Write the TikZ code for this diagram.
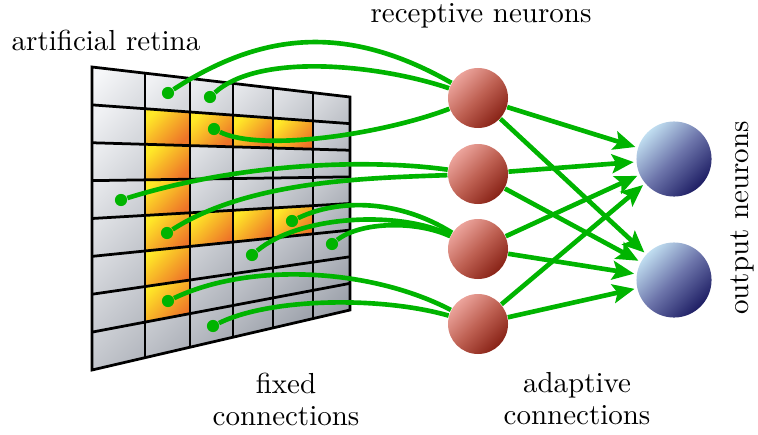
\documentclass[tikz,border=0pt]{standalone}
\usetikzlibrary{arrows.meta}

\definecolor{wire}{RGB}{0,180,0}
\definecolor{cellhi}{RGB}{246,247,249}
\definecolor{celllo}{RGB}{150,155,165}
\definecolor{fyellow}{RGB}{255,232,40}
\definecolor{forange}{RGB}{238,116,40}
\definecolor{redhi}{RGB}{236,164,156}
\definecolor{redmid}{RGB}{190,96,82}
\definecolor{redlo}{RGB}{136,34,22}
\definecolor{bluehi}{RGB}{192,222,240}
\definecolor{bluemid}{RGB}{108,116,170}
\definecolor{bluelo}{RGB}{30,30,100}

% point on the retina: column x, row index
\newcommand{\rp}[2]{({#1},{67+(#1-92)*0.11628+(#2)*(37.875-(#1-92)*0.043605)})}

\tikzset{
  gridline/.style={line width=0.95pt, line join=miter},
  retdot/.style={circle, fill=wire, minimum size=4.2pt, inner sep=0pt},
  fixedwire/.style={draw=wire, line width=1.6pt},
  adaptwire/.style={draw=wire, line width=1.6pt,
    -{Stealth[length=7.5pt, width=6.5pt, inset=1.5pt]}, shorten >=0.8pt},
  recneuron/.style={circle, minimum size=20.7pt, inner sep=0pt,
    top color=redhi, bottom color=redlo, middle color=redmid, shading angle=45},
  outneuron/.style={circle, minimum size=25.9pt, inner sep=0pt,
    top color=bluehi, bottom color=bluelo, middle color=bluemid, shading angle=45}
}

\begin{document}
\begin{tikzpicture}[x=0.345pt, y=-0.345pt]
  \useasboundingbox (0,0) rectangle (758,434);

  % retina cells
  \foreach \xa/\xb [count=\i from 0] in {92/145,145/190,190/233,233/273,273/313,313/350} {
    \foreach \j in {0,...,7} {
      \pgfmathtruncatemacro\ga{6*(\i+\j)}
      \pgfmathtruncatemacro\gb{\ga+28}
      \shade[top color=celllo!\ga!cellhi, bottom color=celllo!\gb!cellhi, shading angle=45]
        \rp{\xa}{\j} -- \rp{\xb}{\j} -- \rp{\xb}{\j+1} -- \rp{\xa}{\j+1} -- cycle;
    }
  }
  % the letter
  \foreach \xa/\xb/\j in {145/190/1,190/233/1,233/273/1,273/313/1,145/190/2,145/190/3,
      145/190/4,190/233/4,233/273/4,273/313/4,145/190/5,145/190/6}
    \shade[top color=fyellow, bottom color=forange, shading angle=45]
      \rp{\xa}{\j} -- \rp{\xb}{\j} -- \rp{\xb}{\j+1} -- \rp{\xa}{\j+1} -- cycle;
  % grid
  \foreach \xa in {145,190,233,273,313}
    \draw[gridline] \rp{\xa}{0} -- \rp{\xa}{8};
  \foreach \j in {1,...,7}
    \draw[gridline] \rp{92}{\j} -- \rp{350}{\j};
  \draw[gridline] \rp{92}{0} -- \rp{350}{0} -- \rp{350}{8} -- \rp{92}{8} -- cycle;

  % neurons
  \node[recneuron] (r1) at (478,98) {};
  \node[recneuron] (r2) at (478,174) {};
  \node[recneuron] (r3) at (478,249) {};
  \node[recneuron] (r4) at (478,324) {};
  \node[outneuron] (o1) at (674,159) {};
  \node[outneuron] (o2) at (674,280) {};

  % dots on the retina
  \node[retdot] (p1) at (168,93) {};
  \node[retdot] (p2) at (210,97) {};
  \node[retdot] (p3) at (214,129) {};
  \node[retdot] (p4) at (121,200) {};
  \node[retdot] (p5) at (167,233) {};
  \node[retdot] (p6) at (292,221) {};
  \node[retdot] (p7) at (252,255) {};
  \node[retdot] (p8) at (332,244) {};
  \node[retdot] (p9) at (168,301) {};
  \node[retdot] (p10) at (213,326) {};

  % fixed connections
  \draw[fixedwire] (p1) .. controls (265,30) and (350,25) .. (r1);
  \draw[fixedwire] (p2) .. controls (260,52) and (380,65) .. (r1);
  \draw[fixedwire] (p3) .. controls (260,152) and (380,135) .. (r1);
  \draw[fixedwire] (p4) .. controls (250,160) and (380,160) .. (r2);
  \draw[fixedwire] (p5) .. controls (250,180) and (370,178) .. (r2);
  \draw[fixedwire] (p6) .. controls (340,198) and (400,200) .. (r3);
  \draw[fixedwire] (p7) .. controls (300,215) and (400,210) .. (r3);
  \draw[fixedwire] (p8) .. controls (360,222) and (415,220) .. (r3);
  \draw[fixedwire] (p9) .. controls (250,262) and (370,268) .. (r4);
  \draw[fixedwire] (p10) .. controls (270,298) and (380,296) .. (r4);

  % adaptive connections
  \foreach \r in {r1,r2,r3,r4}
    \foreach \o in {o1,o2}
      \draw[adaptwire] (\r) -- (\o);

  % labels
  \node (retinalabel) at (106,40) {artificial retina};
  \node (reclabel) at (481,16) {receptive neurons};
  \node[rotate=90] (outlabel) at (742,218) {output neurons};
  \node[align=center] (fixedlabel) at (286,399) {fixed\\[-1pt]connections};
  \node[align=center] (adaptlabel) at (577,399) {adaptive\\[-1pt]connections};
\end{tikzpicture}
\end{document}
